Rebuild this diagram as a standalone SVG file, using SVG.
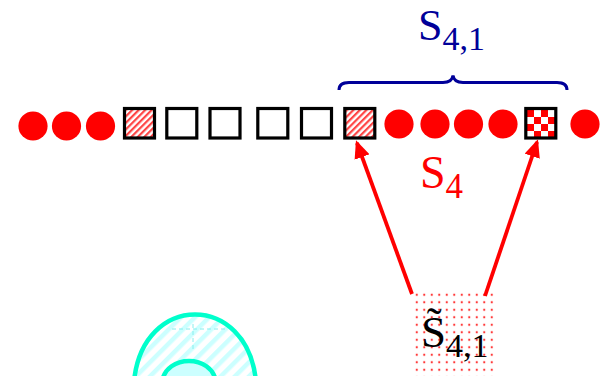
<svg xmlns="http://www.w3.org/2000/svg" width="608" height="376" viewBox="0 0 608 376">
<style>
.dot{fill:#ff0000}
.sq{fill:#ffffff;stroke:#000000;stroke-width:3.2}
.txt{font-family:"Liberation Serif","Times New Roman",serif}
.arrow{stroke:#ff0000;stroke-width:3.8;fill:none}
</style>
<defs>
<pattern id="hatchRed" patternUnits="userSpaceOnUse" width="4.6" height="4.6" patternTransform="rotate(45)">
<rect width="4.6" height="4.6" fill="#ffffff"/>
<rect width="2.2" height="4.6" fill="#ff4444"/>
</pattern>
<pattern id="checker" patternUnits="userSpaceOnUse" x="527" y="110" width="14" height="14">
<rect width="14" height="14" fill="#ffffff"/>
<rect width="7" height="7" fill="#ff0000"/>
<rect x="7" y="7" width="7" height="7" fill="#ff0000"/>
</pattern>
<pattern id="dots" patternUnits="userSpaceOnUse" x="413" y="291" width="7.5" height="7.5">
<circle cx="3.75" cy="3.75" r="1.1" fill="#ff3333"/>
</pattern>
<pattern id="hatchCyan" patternUnits="userSpaceOnUse" width="10" height="10" patternTransform="rotate(45)">
<rect width="10" height="10" fill="#ffffff"/>
<rect width="4.5" height="10" fill="#ccffff"/>
</pattern>
<marker id="ah" markerWidth="18" markerHeight="16" refX="15" refY="8" orient="auto" markerUnits="userSpaceOnUse" viewBox="0 0 18 16">
<path d="M0,0 L18,8 L0,16 Z" fill="#ff0000"/>
</marker>
</defs>

<!-- bottom-left cyan shape (partially visible) -->
<g id="cyan-shape">
<path d="M134,382 C142,292 248,292 256,382" fill="url(#hatchCyan)" stroke="#00ffcc" stroke-width="4.5"/>
<path d="M172,329 H226 M193,324 V350" stroke="#88eeee" stroke-width="1" stroke-dasharray="4,3" fill="none"/>
<path d="M162,382 C166,354 212,354 216,382" fill="#ccffff" stroke="#00ffcc" stroke-width="4.5"/>
</g>

<!-- row of sites -->
<g id="c1"><circle class="dot" cx="33" cy="126" r="14.6"/></g>
<g id="c2"><circle class="dot" cx="66.5" cy="126" r="14.6"/></g>
<g id="c3"><circle class="dot" cx="100.5" cy="126" r="14.6"/></g>
<g id="s1"><rect class="sq" x="124.5" y="108.5" width="30" height="29.5" style="fill:url(#hatchRed)"/></g>
<g id="s2"><rect class="sq" x="166.8" y="108.5" width="30" height="29.5"/></g>
<g id="s3"><rect class="sq" x="210" y="108.5" width="30" height="29.5"/></g>
<g id="s4"><rect class="sq" x="257.8" y="108.5" width="30" height="29.5"/></g>
<g id="s5"><rect class="sq" x="301.5" y="108.5" width="30" height="29.5"/></g>
<g id="s6"><rect class="sq" x="344.8" y="108.5" width="30" height="29.5" style="fill:url(#hatchRed)"/></g>
<g id="c4"><circle class="dot" cx="399" cy="124" r="14.6"/></g>
<g id="c5"><circle class="dot" cx="435" cy="124" r="14.6"/></g>
<g id="c6"><circle class="dot" cx="468.5" cy="124" r="14.6"/></g>
<g id="c7"><circle class="dot" cx="503" cy="124" r="14.6"/></g>
<g id="s7"><rect class="sq" x="525.8" y="108.5" width="30" height="29.5" style="fill:url(#checker)"/></g>
<g id="c8"><circle class="dot" cx="585" cy="124" r="14.6"/></g>

<!-- brace and label -->
<g id="brace">
<path d="M339,90 Q339,82.5 349,82.5 L443,82.5 Q452,82.5 453,75.5 Q454,82.5 463,82.5 L557,82.5 Q567,82.5 567,90" fill="none" stroke="#000099" stroke-width="3"/>
<text class="txt" x="418" y="40" font-size="44" fill="#000099">S<tspan font-size="34" dy="10">4,1</tspan></text>
</g>

<!-- S4 label -->
<g id="label-s4">
<text class="txt" x="420" y="188" font-size="46" fill="#ff0000">S<tspan font-size="35" dy="10">4</tspan></text>
</g>

<!-- tilde S box -->
<g id="tilde-box">
<rect x="414" y="292" width="80" height="86" fill="url(#dots)"/>
<text class="txt" x="421" y="347" font-size="45" fill="#000000">S̃<tspan font-size="34" dy="10">4,1</tspan></text>
</g>

<!-- connectors -->
<g id="connectors">
<line class="arrow" x1="412" y1="294" x2="357" y2="143" marker-end="url(#ah)"/>
<line class="arrow" x1="485" y1="296" x2="537" y2="142" marker-end="url(#ah)"/>
</g>
</svg>
